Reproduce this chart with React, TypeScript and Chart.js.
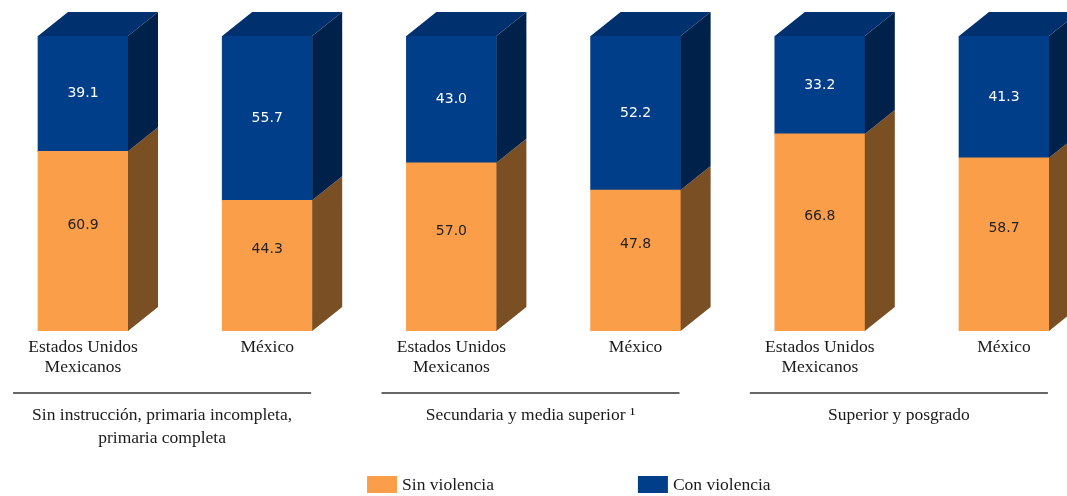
import React, { useEffect, useRef } from "react";
import { Chart, registerables } from "chart.js";

Chart.register(...registerables);

const categories: (string | string[])[] = [
  ["Estados Unidos", "Mexicanos"],
  "México",
  ["Estados Unidos", "Mexicanos"],
  "México",
  ["Estados Unidos", "Mexicanos"],
  "México",
];
const groupLabels: string[][] = [
  ["Sin instrucción, primaria incompleta,", "primaria completa"],
  ["Secundaria y media superior ¹"],
  ["Superior y posgrado"],
];
const sinViolencia = [60.9, 44.3, 57.0, 47.8, 66.8, 58.7];
const conViolencia = [39.1, 55.7, 43.0, 52.2, 33.2, 41.3];
const seriesNames = ["Sin violencia", "Con violencia"];

const ORANGE = "#FB9E4A";
const ORANGE_SIDE = "#7A4F24";
const BLUE = "#003E8A";
const BLUE_SIDE = "#00224A";
const BLUE_TOP = "#00306E";
const DX = 30;
const DY = 24;
const SERIF = "'Liberation Serif', 'Times New Roman', serif";
const SANS = "'DejaVu Sans', sans-serif";
const FS = 17.5;

const threeD = {
  id: "threeD",
  afterDatasetsDraw(chart: any) {
    const ctx = chart.ctx;
    const sides = [ORANGE_SIDE, BLUE_SIDE];
    const nDs = chart.data.datasets.length;
    ctx.save();
    for (let d = 0; d < nDs; d++) {
      const meta = chart.getDatasetMeta(d);
      meta.data.forEach((bar: any, i: number) => {
        const { x, y, base, width } = bar.getProps(["x", "y", "base", "width"], true);
        const l = x - width / 2;
        const r = x + width / 2;
        ctx.fillStyle = sides[d];
        ctx.beginPath();
        ctx.moveTo(r, y);
        ctx.lineTo(r + DX, y - DY);
        ctx.lineTo(r + DX, base - DY);
        ctx.lineTo(r, base);
        ctx.closePath();
        ctx.fill();
        if (d === nDs - 1) {
          ctx.fillStyle = BLUE_TOP;
          ctx.beginPath();
          ctx.moveTo(l, y);
          ctx.lineTo(r, y);
          ctx.lineTo(r + DX, y - DY);
          ctx.lineTo(l + DX, y - DY);
          ctx.closePath();
          ctx.fill();
        }
        const val = chart.data.datasets[d].data[i].y;
        ctx.font = `14px ${SANS}`;
        ctx.textAlign = "center";
        ctx.textBaseline = "middle";
        ctx.fillStyle = d === 0 ? "#222222" : "#ffffff";
        const cy = (y + base) / 2 - (d === 0 ? 16 : 0);
        ctx.fillText(val.toFixed(1), x, cy);
      });
    }
    ctx.restore();
  },
  afterDraw(chart: any) {
    const ctx = chart.ctx;
    const xs = chart.scales.x;
    const bottom = chart.chartArea.bottom;
    ctx.save();
    groupLabels.forEach((lines, g) => {
      const cx = xs.getPixelForValue(2 * g + 0.5) - 13;
      const half = 149;
      ctx.strokeStyle = "#333333";
      ctx.lineWidth = 1.3;
      ctx.beginPath();
      ctx.moveTo(cx - half, bottom + 62);
      ctx.lineTo(cx + half, bottom + 62);
      ctx.stroke();
      ctx.font = `${FS}px ${SERIF}`;
      ctx.fillStyle = "#1a1a1a";
      ctx.textAlign = "center";
      ctx.textBaseline = "middle";
      lines.forEach((t, k) => {
        ctx.fillText(t, cx, bottom + 84 + k * 23);
      });
    });
    const colors = [ORANGE, BLUE];
    const ly = bottom + 154;
    ctx.font = `${FS}px ${SERIF}`;
    ctx.textAlign = "left";
    ctx.textBaseline = "middle";
    let lx = chart.width * 0.344;
    const gapItems = 144;
    seriesNames.forEach((name, k) => {
      ctx.fillStyle = colors[k];
      ctx.fillRect(lx, ly - 9, 30, 17);
      ctx.fillStyle = "#1a1a1a";
      ctx.fillText(name, lx + 35, ly);
      lx += 35 + ctx.measureText(name).width + gapItems;
    });
    ctx.restore();
  },
};

export default function App() {
  const ref = useRef<HTMLCanvasElement>(null);
  useEffect(() => {
    if (!ref.current) return;
    const W = 1067;
    const firstCenter = 83;
    const step = 184.2;
    const chart = new Chart(ref.current, {
      type: "bar",
      data: {
        datasets: [
          {
            label: seriesNames[0],
            data: sinViolencia.map((v, i) => ({ x: i, y: v })),
            backgroundColor: ORANGE,
            stack: "s",
            barThickness: 90,
          },
          {
            label: seriesNames[1],
            data: conViolencia.map((v, i) => ({ x: i, y: v })),
            backgroundColor: BLUE,
            stack: "s",
            barThickness: 90,
          },
        ],
      },
      plugins: [threeD],
      options: {
        responsive: false,
        animation: false,
        layout: { padding: { top: 36, bottom: 113, left: 0, right: 0 } },
        plugins: { legend: { display: false }, tooltip: { enabled: false } },
        scales: {
          x: {
            type: "linear",
            offset: false,
            min: -firstCenter / step,
            max: (W - firstCenter) / step,
            grid: { display: false, drawTicks: false, offset: false },
            border: { display: false },
            afterBuildTicks: (scale: any) => {
              scale.ticks = categories.map((_, i) => ({ value: i }));
            },
            ticks: {
              autoSkip: false,
              maxRotation: 0,
              padding: 6,
              color: "#1a1a1a",
              font: { family: SERIF, size: FS, lineHeight: 20 / FS },
              callback: (value: any) => categories[value as number],
            },
          },
          y: {
            display: false,
            stacked: true,
            min: 0,
            max: 100,
          },
        },
      },
    } as any);
    return () => chart.destroy();
  }, []);
  return (
    <div style={{ position: "absolute", left: 0, top: 0, width: 1067, height: 496, background: "#fff" }}>
      <canvas ref={ref} width={1067} height={496} style={{ display: "block" }} />
    </div>
  );
}
